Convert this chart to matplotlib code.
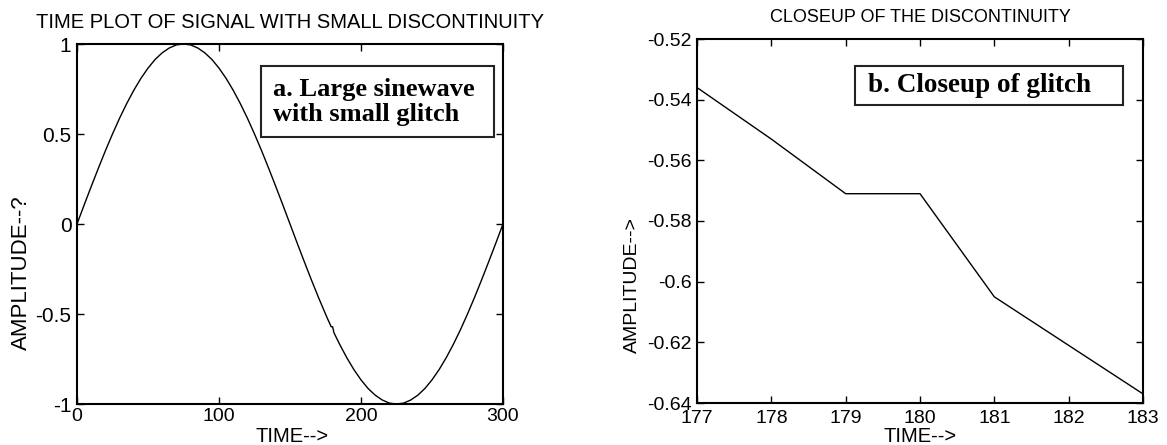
import matplotlib.pyplot as plt
from matplotlib.patches import Rectangle

# coarse samples of the full sinewave (every 5 samples, glitch region handled below)
wave_time = list(range(0, 176, 5)) + list(range(185, 301, 5))
wave_amp = [
    0.0, 0.105, 0.208, 0.309, 0.407, 0.5, 0.588, 0.669, 0.743, 0.809,
    0.866, 0.914, 0.951, 0.978, 0.995, 1.0, 0.995, 0.978, 0.951, 0.914,
    0.866, 0.809, 0.743, 0.669, 0.588, 0.5, 0.407, 0.309, 0.208, 0.105,
    0.0, -0.105, -0.208, -0.309, -0.407, -0.5,
    -0.669, -0.743, -0.809, -0.866, -0.914, -0.951, -0.978, -0.995, -1.0,
    -0.995, -0.978, -0.951, -0.914, -0.866, -0.809, -0.743, -0.669, -0.588,
    -0.5, -0.407, -0.309, -0.208, -0.105, 0.0,
]

# every sample around the glitch (value at 180 held from 179)
glitch_time = [177, 178, 179, 180, 181, 182, 183]
glitch_amp = [-0.536, -0.553, -0.571, -0.571, -0.605, -0.621, -0.637]

left_xticks = [0, 100, 200, 300]
left_yticks = [-1, -0.5, 0, 0.5, 1]
left_ylabels = ["-1", "-0.5", "0", "0.5", "1"]
right_yticks = [-0.64, -0.62, -0.6, -0.58, -0.56, -0.54, -0.52]
right_ylabels = ["-0.64", "-0.62", "-0.6", "-0.58", "-0.56", "-0.54", "-0.52"]

plt.rcParams["font.family"] = ["Liberation Sans", "DejaVu Sans"]

W, H = 1167, 445
fig = plt.figure(figsize=(W / 100, H / 100), dpi=100)


def fx(px):
    return px / W


def fy(py):
    return 1 - py / H


# merge coarse samples with the detailed glitch samples
pairs = sorted(zip(wave_time + glitch_time, wave_amp + glitch_amp))
full_t = [p[0] for p in pairs]
full_a = [p[1] for p in pairs]


def style_axes(ax, xsize, ysize, xpad):
    for s in ax.spines.values():
        s.set_linewidth(1.5)
        s.set_color("black")
    ax.tick_params(direction="in", top=True, right=True, length=5, width=1.0)
    ax.tick_params(axis="x", labelsize=xsize, pad=xpad)
    ax.tick_params(axis="y", labelsize=ysize, pad=4)


# left: full signal
ax1 = fig.add_axes([fx(77), fy(404), fx(503 - 77), (404 - 44) / H])
ax1.plot(full_t, full_a, color="black", lw=1.0)
ax1.set_xlim(0, 300)
ax1.set_ylim(-1, 1)
ax1.set_xticks(left_xticks)
ax1.set_yticks(left_yticks)
ax1.set_yticklabels(left_ylabels)
style_axes(ax1, 14, 15, 3)

# right: closeup
ax2 = fig.add_axes([fx(697), fy(403), fx(1143 - 697), (403 - 39) / H])
ax2.plot(glitch_time, glitch_amp, color="black", lw=1.0)
ax2.set_xlim(177, 183)
ax2.set_ylim(-0.64, -0.52)
ax2.set_xticks(glitch_time)
ax2.set_yticks(right_yticks)
ax2.set_yticklabels(right_ylabels)
style_axes(ax2, 14, 14, 5)

# titles and axis labels (MATLAB-like placement)
fig.text(fx(290), fy(22), "TIME PLOT OF SIGNAL WITH SMALL DISCONTINUITY",
         fontsize=14.5, ha="center", va="center")
fig.text(fx(920), fy(17), "CLOSEUP OF THE DISCONTINUITY",
         fontsize=13, ha="center", va="center")
fig.text(fx(292), fy(436), "TIME-->", fontsize=14.5, ha="center", va="center")
fig.text(fx(920), fy(436), "TIME-->", fontsize=14.5, ha="center", va="center")
fig.text(fx(21), fy(273), "AMPLITUDE--?", fontsize=16, rotation=90,
         ha="center", va="center")
fig.text(fx(632), fy(285), "AMPLITUDE-->", fontsize=14, rotation=90,
         ha="center", va="center")

# annotation boxes
fig.add_artist(Rectangle((fx(261), fy(137)), fx(494 - 261), (137 - 66) / H,
                         transform=fig.transFigure, fc="white", ec="#222222",
                         lw=1.5))
fig.text(fx(273), fy(102), "a. Large sinewave\nwith small glitch",
         family="Liberation Serif", weight="bold", fontsize=19,
         ha="left", va="center", linespacing=1.15)
fig.add_artist(Rectangle((fx(855), fy(105)), fx(1123 - 855), (105 - 66) / H,
                         transform=fig.transFigure, fc="white", ec="#222222",
                         lw=1.5))
fig.text(fx(868), fy(86), "b. Closeup of glitch",
         family="Liberation Serif", weight="bold", fontsize=19.5,
         ha="left", va="center")

fig.savefig("out.png", dpi=100)
